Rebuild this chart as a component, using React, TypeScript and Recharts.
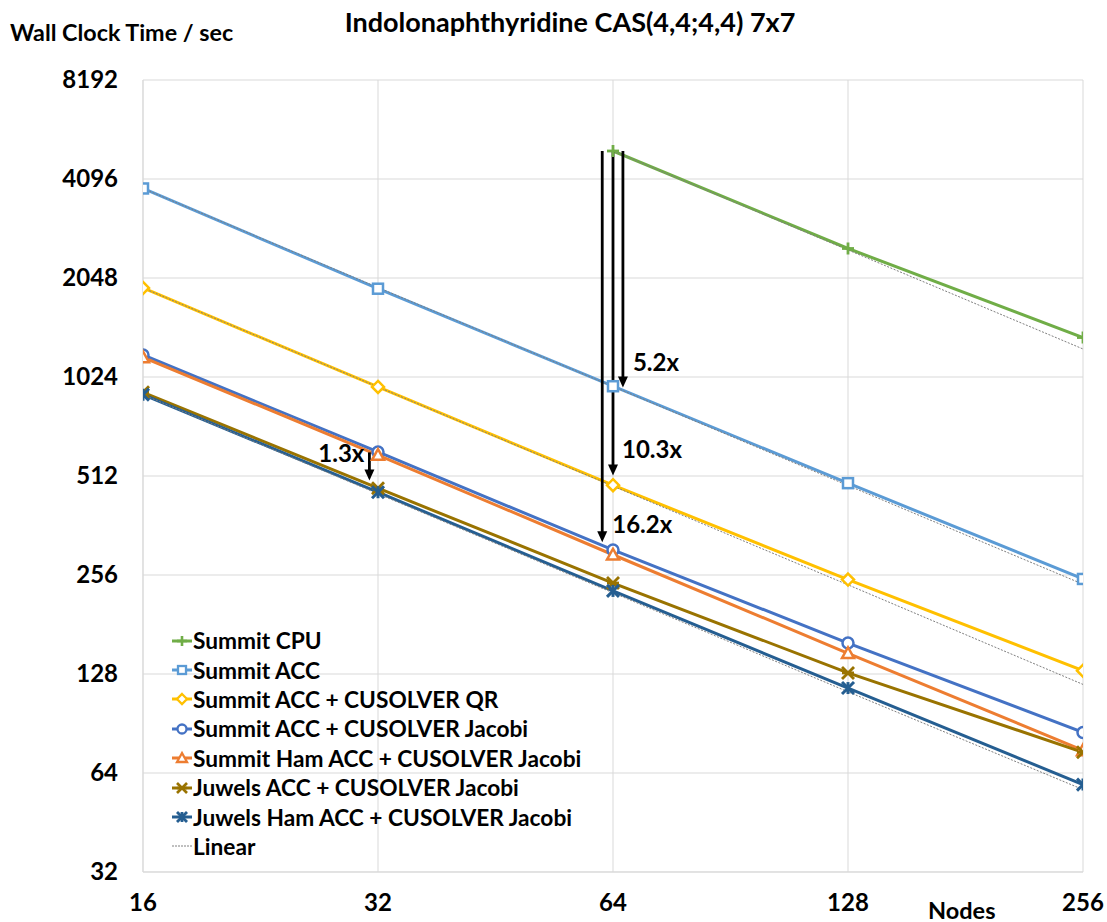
import React from 'react';
import { LineChart, Line, XAxis, YAxis, CartesianGrid, ReferenceLine } from 'recharts';

const nodes = [16, 32, 64, 128, 256];
const yTicks = [32, 64, 128, 256, 512, 1024, 2048, 4096, 8192];

const summitCpu = [null, null, 4983, 2518, 1350];
const summitAcc = [3833, 1900, 960, 487, 249];
const summitAccQr = [1910, 955, 480, 248, 131];
const summitAccJacobi = [1195, 606, 305, 159, 85];
const summitHamAccJacobi = [1175, 593, 295, 148, 75];
const juwelsAccJacobi = [920, 470, 242, 129, 74];
const juwelsHamAccJacobi = [905, 457, 229, 116, 59];

const linearCpu = [null, null, 4983, 2492, 1246];
const linearAcc = [3833, 1916, 958, 479, 240];
const linearQr = [1910, 955, 477, 239, 119];
const linearJuwelsHam = [905, 452, 226, 113, 57];

const annotations = [
  { x: 65.9, from: 4983, to: 951, label: '5.2x' },
  { x: 64, from: 4983, to: 514, label: '10.3x' },
  { x: 62, from: 4983, to: 322, label: '16.2x' },
  { x: 31.2, from: 604, to: 496, label: '1.3x' },
];
const annotationLabelStyle = [
  { dx: 10, dy: -25, anchor: 'start', at: 'end' },
  { dx: 9, dy: -26, anchor: 'start', at: 'end' },
  { dx: 10, dy: -18, anchor: 'start', at: 'end' },
  { dx: -5, dy: 1, anchor: 'end', at: 'start' },
];

const FONT = 'Lato, "Open Sans", sans-serif';

const series = [
  { key: 'cpu', name: 'Summit CPU', values: summitCpu, color: '#70ad47', marker: 'plus' },
  { key: 'acc', name: 'Summit ACC', values: summitAcc, color: '#5b9bd5', marker: 'square' },
  { key: 'qr', name: 'Summit ACC + CUSOLVER QR', values: summitAccQr, color: '#ffc000', marker: 'diamond' },
  { key: 'jac', name: 'Summit ACC + CUSOLVER Jacobi', values: summitAccJacobi, color: '#4472c4', marker: 'circle' },
  { key: 'ham', name: 'Summit Ham ACC + CUSOLVER Jacobi', values: summitHamAccJacobi, color: '#ed7d31', marker: 'triangle' },
  { key: 'juw', name: 'Juwels ACC + CUSOLVER Jacobi', values: juwelsAccJacobi, color: '#997300', marker: 'xstar' },
  { key: 'juwham', name: 'Juwels Ham ACC + CUSOLVER Jacobi', values: juwelsHamAccJacobi, color: '#255e91', marker: 'star' },
];

const linears = [
  { key: 'linCpu', values: linearCpu },
  { key: 'linAcc', values: linearAcc },
  { key: 'linQr', values: linearQr },
  { key: 'linJuwHam', values: linearJuwelsHam },
];

const data = nodes.map((n, i) => {
  const row: any = { n };
  series.forEach((s) => { row[s.key] = s.values[i]; });
  linears.forEach((s) => { row[s.key] = s.values[i]; });
  return row;
});

function Marker({ cx, cy, type, color, size, sw = 2.5 }: any) {
  const r = size / 2;
  if (cx == null || cy == null) return null;
  switch (type) {
    case 'plus':
      return (
        <g stroke={color} strokeWidth={sw + 0.3}>
          <line x1={cx - r} y1={cy} x2={cx + r} y2={cy} />
          <line x1={cx} y1={cy - r} x2={cx} y2={cy + r} />
        </g>
      );
    case 'square':
      return <rect x={cx - r + 1} y={cy - r + 1} width={size - 2} height={size - 2} fill="#fff" stroke={color} strokeWidth={sw} />;
    case 'diamond':
      return <polygon points={`${cx},${cy - r} ${cx + r},${cy} ${cx},${cy + r} ${cx - r},${cy}`} fill="#fff" stroke={color} strokeWidth={sw} />;
    case 'circle':
      return <circle cx={cx} cy={cy} r={r - 0.5} fill="#fff" stroke={color} strokeWidth={sw} />;
    case 'triangle':
      return <polygon points={`${cx},${cy - r} ${cx + r},${cy + r * 0.8} ${cx - r},${cy + r * 0.8}`} fill="#fff" stroke={color} strokeWidth={sw} />;
    case 'xstar':
      return (
        <g stroke={color} strokeWidth={sw + 0.3}>
          <line x1={cx - r} y1={cy - r} x2={cx + r} y2={cy + r} />
          <line x1={cx - r} y1={cy + r} x2={cx + r} y2={cy - r} />
          <line x1={cx - r} y1={cy} x2={cx + r} y2={cy} />
        </g>
      );
    case 'star':
      return (
        <g stroke={color} strokeWidth={sw + 0.5}>
          <line x1={cx - r} y1={cy - r} x2={cx + r} y2={cy + r} />
          <line x1={cx - r} y1={cy + r} x2={cx + r} y2={cy - r} />
          <line x1={cx} y1={cy - r} x2={cx} y2={cy + r} />
        </g>
      );
    default:
      return null;
  }
}

const YTick = (props: any) => {
  const { x, y, payload } = props;
  return (
    <text x={x} y={y} dy="0.35em" textAnchor="end" fontFamily={FONT} fontWeight={700} fontSize={24} fill="#000">
      {payload.value}
    </text>
  );
};

const XTick = (props: any) => {
  const { x, y, payload } = props;
  return (
    <text x={x} y={y} dy="0.35em" textAnchor="middle" fontFamily={FONT} fontWeight={700} fontSize={24} fill="#000">
      {payload.value}
    </text>
  );
};

const makeArrow = (idx: number) => (props: any) => {
  const { x1, y1, x2, y2 } = props;
  const st = annotationLabelStyle[idx];
  const a = annotations[idx];
  const tipY = Math.max(y1, y2);
  const topY = Math.min(y1, y2);
  const head = 11;
  const lx = x1 + st.dx;
  const ly = (st.at === 'end' ? tipY : topY) + st.dy;
  return (
    <g>
      <line x1={x1} y1={topY} x2={x1} y2={tipY - head + 1} stroke="#000" strokeWidth={2.8} />
      <polygon points={`${x1 - 5},${tipY - head} ${x1 + 5},${tipY - head} ${x1},${tipY}`} fill="#000" />
      <text x={lx} y={ly} dy="0.35em" textAnchor={st.anchor} fontFamily={FONT} fontWeight={700} fontSize={24} fill="#000">
        {a.label}
      </text>
    </g>
  );
};

function LegendBox() {
  const items = [...series.map((s) => ({ ...s, dashed: false })), { key: 'lin', name: 'Linear', color: '#808080', marker: 'none', dashed: true }];
  return (
    <div style={{ position: 'absolute', left: 170, top: 626, fontFamily: FONT, fontWeight: 700, fontSize: 22.7, color: '#000' }}>
      {items.map((it: any) => (
        <div key={it.key} style={{ display: 'flex', alignItems: 'center', height: 29.4, whiteSpace: 'nowrap' }}>
          <svg width={22} height={20} style={{ marginRight: 1 }}>
            {it.dashed ? (
              <line x1={2} y1={10} x2={22} y2={10} stroke="#808080" strokeWidth={1} strokeDasharray="2 1" />
            ) : (
              <>
                <line x1={2} y1={10} x2={22} y2={10} stroke={it.color} strokeWidth={3} />
                <Marker cx={12} cy={10} type={it.marker} color={it.color} size={10} sw={2.3} />
              </>
            )}
          </svg>
          <span>{it.name}</span>
        </div>
      ))}
    </div>
  );
}

export default function App() {
  return (
    <div style={{ position: 'absolute', left: 0, top: 0, width: 1107, height: 922, background: '#fff' }}>
      <LineChart width={1107} height={922} data={data} margin={{ top: 80, right: 24, bottom: 0, left: 0 }}>
        <CartesianGrid stroke="#d9d9d9" strokeWidth={1} />
        <XAxis
          dataKey="n"
          type="number"
          scale="log"
          domain={[16, 256]}
          ticks={nodes}
          height={50}
          tickLine={false}
          tickSize={0}
          tickMargin={31}
          axisLine={{ stroke: '#d9d9d9' }}
          tick={XTick}
          interval={0}
          allowDataOverflow
        />
        <YAxis
          type="number"
          scale="log"
          domain={[32, 8192]}
          ticks={yTicks}
          width={143}
          tickLine={false}
          tickSize={0}
          tickMargin={25}
          axisLine={{ stroke: '#d9d9d9' }}
          tick={YTick}
          interval={0}
          allowDataOverflow
        />
        {series.map((s) => (
          <Line
            key={s.key}
            dataKey={s.key}
            stroke={s.color}
            strokeWidth={3}
            isAnimationActive={false}
            connectNulls={false}
            dot={(p: any) => <Marker key={`${s.key}-${p.index}`} cx={p.cx} cy={p.cy} type={s.marker} color={s.color} size={12} />}
            activeDot={false}
          />
        ))}
        {linears.map((l) => (
          <Line
            key={l.key}
            dataKey={l.key}
            stroke="#7f7f7f"
            strokeWidth={1}
            strokeDasharray="2 1.5"
            dot={false}
            activeDot={false}
            isAnimationActive={false}
          />
        ))}
        {annotations.map((a, i) => (
          <ReferenceLine
            key={`ann-${i}`}
            segment={[{ x: a.x, y: a.from }, { x: a.x, y: a.to }]}
            shape={makeArrow(i)}
            ifOverflow="visible"
          />
        ))}
      </LineChart>
      <div style={{ position: 'absolute', left: 10, top: 19, lineHeight: '26px', fontFamily: FONT, fontWeight: 700, fontSize: 23.3, whiteSpace: 'nowrap' }}>
        Wall Clock Time / sec
      </div>
      <div style={{ position: 'absolute', left: 320, top: 7, width: 500, lineHeight: '30px', textAlign: 'center', fontFamily: FONT, fontWeight: 700, fontSize: 27, whiteSpace: 'nowrap' }}>
        Indolonaphthyridine CAS(4,4;4,4) 7x7
      </div>
      <div style={{ position: 'absolute', left: 928, top: 897, lineHeight: '26px', fontFamily: FONT, fontWeight: 700, fontSize: 23.5, whiteSpace: 'nowrap' }}>
        Nodes
      </div>
      <LegendBox />
    </div>
  );
}
